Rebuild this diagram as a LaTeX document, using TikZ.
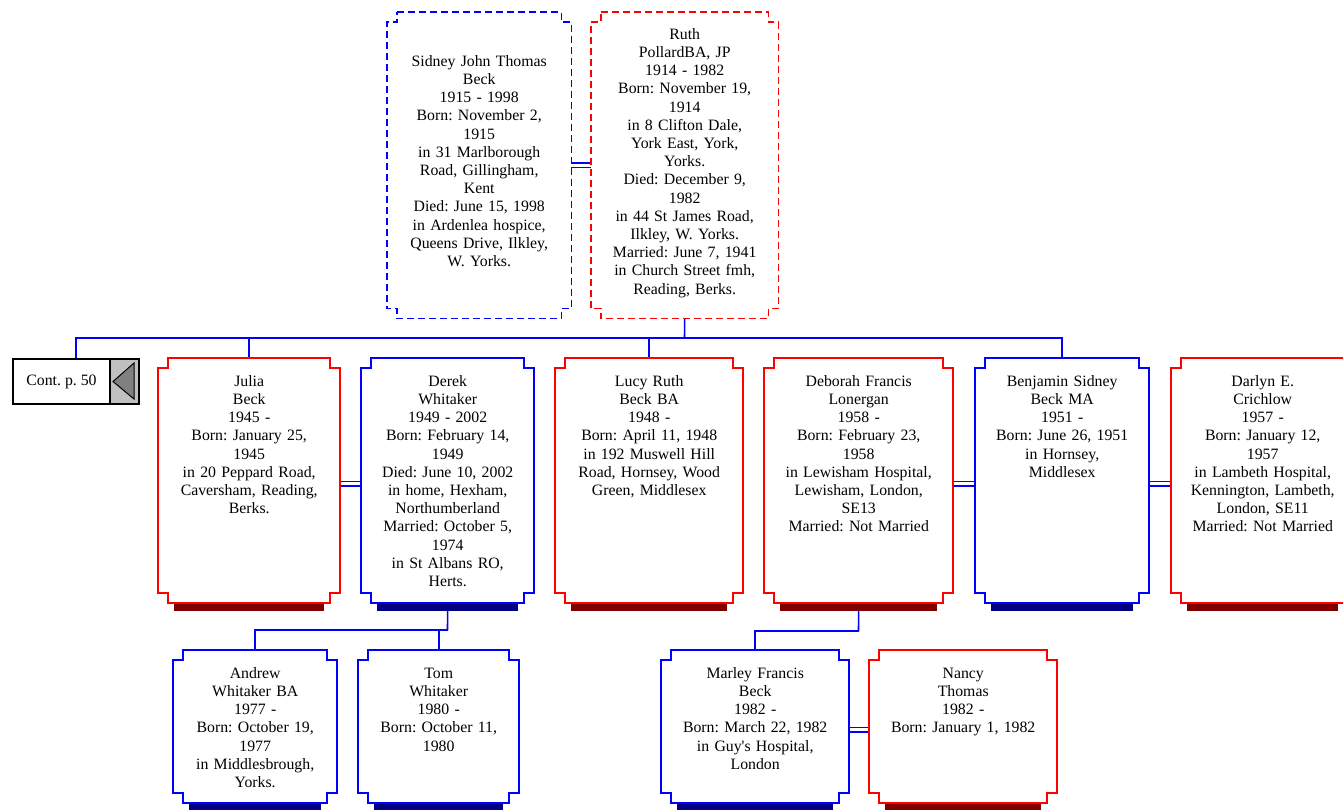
\documentclass[tikz,border=0pt]{standalone}
\usepackage{fontspec}
\setmainfont{Liberation Serif}
\usetikzlibrary{calc,positioning}
\definecolor{famBlue}{HTML}{0000FF}
\definecolor{famRed}{HTML}{FF0000}
\definecolor{famNavy}{HTML}{000080}
\definecolor{famMaroon}{HTML}{800000}
\definecolor{famGrey}{HTML}{C0C0C0}
\definecolor{famArrow}{HTML}{808080}
\newcommand{\cardfont}{\fontsize{15.8}{18.2}\selectfont\frenchspacing}

\begin{document}
\begin{tikzpicture}[x=1pt,y=-1pt,line join=miter]
\useasboundingbox (0,0) rectangle (1343,809);
\path[fill=white] (0,0) rectangle (1343,809);
\clip (0,0) rectangle (1343,809);
\tikzset{person/.style={rectangle,inner sep=0pt,anchor=north west,align=center,font=\cardfont,minimum width=#1,text width=158pt},midrow/.style={text height=28pt,text depth=217pt},lowrow/.style={text height=28pt,text depth=125pt},link/.style={draw=famBlue,line width=1.6pt},spouse/.style={draw=famBlue,double=white,double distance=2.6pt,line width=1.5pt},cardedge/.style={draw=#1,line width=2pt},contbox/.style={draw=black,line width=2pt,inner sep=0pt,font=\cardfont}}
% parents
\node[person=184,text height=54pt,text depth=252pt] (sidney) at (387,12) {Sidney John Thomas\\Beck\\1915 - 1998\\Born: November 2,\\1915\\in 31 Marlborough\\Road, Gillingham,\\Kent\\Died: June 15, 1998\\in Ardenlea hospice,\\Queens Drive, Ilkley,\\W. Yorks.};
\node[person=187,text height=27pt,text depth=279pt] (ruth) at (591,12) {Ruth\\PollardBA, JP\\1914 - 1982\\Born: November 19,\\1914\\in 8 Clifton Dale,\\York East, York,\\Yorks.\\Died: December 9,\\1982\\in 44 St James Road,\\Ilkley, W. Yorks.\\Married: June 7, 1941\\in Church Street fmh,\\Reading, Berks.};
% children and spouses
\node[contbox,anchor=north west,minimum width=126pt,minimum height=45pt] (contp) at (12,358) {\makebox[126pt][l]{\makebox[97pt]{Cont. p. 50}}};
\node[contbox,fill=famGrey,anchor=east,minimum width=29pt,minimum height=45pt] (contarrow) at (contp.east) {};
\draw[fill=famArrow,line width=1pt] ($(contarrow.west)+(4,0)$) -- ($(contarrow.north east)+(-6,5)$) -- ($(contarrow.south east)+(-6,-6)$) -- cycle;
\node[person=182,midrow] (julia) at (158,358) {Julia\\Beck\\1945 -\\Born: January 25,\\1945\\in 20 Peppard Road,\\Caversham, Reading,\\Berks.};
\node[person=173,midrow] (derek) at (361,358) {Derek\\Whitaker\\1949 - 2002\\Born: February 14,\\1949\\Died: June 10, 2002\\in home, Hexham,\\Northumberland\\Married: October 5,\\1974\\in St Albans RO,\\Herts.};
\node[person=188,midrow] (lucy) at (555,358) {Lucy Ruth\\Beck BA\\1948 -\\Born: April 11, 1948\\in 192 Muswell Hill\\Road, Hornsey, Wood\\Green, Middlesex};
\node[person=189,midrow] (deborah) at (764,358) {Deborah Francis\\Lonergan\\1958 -\\Born: February 23,\\1958\\in Lewisham Hospital,\\Lewisham, London,\\SE13\\Married: Not Married};
\node[person=174,midrow] (benjamin) at (975,358) {Benjamin Sidney\\Beck MA\\1951 -\\Born: June 26, 1951\\in Hornsey,\\Middlesex};
\node[person=183,midrow] (darlyn) at (1171,358) {Darlyn E.\\Crichlow\\1957 -\\Born: January 12,\\1957\\in Lambeth Hospital,\\Kennington, Lambeth,\\London, SE11\\Married: Not Married};
% grandchildren
\node[person=164,lowrow] (andrew) at (173,650) {Andrew\\Whitaker BA\\1977 -\\Born: October 19,\\1977\\in Middlesbrough,\\Yorks.};
\node[person=161,lowrow] (tom) at (358,650) {Tom\\Whitaker\\1980 -\\Born: October 11,\\1980};
\node[person=188,lowrow] (marley) at (661,650) {Marley Francis\\Beck\\1982 -\\Born: March 22, 1982\\in Guy\textquotesingle s Hospital,\\London};
\node[person=188,lowrow] (nancy) at (869,650) {Nancy\\Thomas\\1982 -\\Born: January 1, 1982};
% connectors
\coordinate (kidsbus) at (684.5,338);
\coordinate (derekbus) at (447.5,630);
\coordinate (deborahbus) at (858.5,631);
\draw[link] (ruth.south) -- (kidsbus);
\draw[link] (kidsbus) -| (contp.north);
\draw[link] (kidsbus) -| (julia.north);
\draw[link] (kidsbus) -| (lucy.north);
\draw[link] (kidsbus) -| (benjamin.north);
\draw[link] (derek.south) -- (derekbus);
\draw[link] (derekbus) -| (andrew.north);
\draw[link] (derekbus) -| (tom.north);
\draw[link] (deborah.south) -- (deborahbus);
\draw[link] (deborahbus) -| (marley.north);
\draw[spouse] (sidney.east) -- (ruth.west);
\draw[spouse] ($(julia.east)+(0,3)$) -- ($(derek.west)+(0,3)$);
\draw[spouse] ($(deborah.east)+(0,3)$) -- ($(benjamin.west)+(0,3)$);
\draw[spouse] ($(benjamin.east)+(0,3)$) -- ($(darlyn.west)+(0,3)$);
\draw[spouse] ($(marley.east)+(0,3)$) -- ($(nancy.west)+(0,3)$);
% notched frames
\foreach \n/\c in {sidney/famBlue,ruth/famRed}
  \draw[cardedge=\c,line width=1.1pt,dash pattern=on 7pt off 4pt] ($(\n.north west)+(10,0)$) -- ($(\n.north east)+(-10,0)$) -- ++(0,10) -- ++(10,0) -- ($(\n.south east)+(0,-10)$) -- ++(-10,0) -- ++(0,10) -- ($(\n.south west)+(10,0)$) -- ++(0,-10) -- ++(-10,0) -- ($(\n.north west)+(0,10)$) -- ++(10,0) -- cycle;
\foreach \n/\c/\s in {julia/famRed/famMaroon,derek/famBlue/famNavy,lucy/famRed/famMaroon,deborah/famRed/famMaroon,benjamin/famBlue/famNavy,darlyn/famRed/famMaroon,andrew/famBlue/famNavy,tom/famBlue/famNavy,marley/famBlue/famNavy,nancy/famRed/famMaroon}{
  \fill[\s] ($(\n.south west)+(16,0)$) rectangle ($(\n.south east)+(-16,8)$);
  \draw[cardedge=\c] ($(\n.north west)+(10,0)$) -- ($(\n.north east)+(-10,0)$) -- ++(0,10) -- ++(10,0) -- ($(\n.south east)+(0,-10)$) -- ++(-10,0) -- ++(0,10) -- ($(\n.south west)+(10,0)$) -- ++(0,-10) -- ++(-10,0) -- ($(\n.north west)+(0,10)$) -- ++(10,0) -- cycle;
}
\end{tikzpicture}
\end{document}
